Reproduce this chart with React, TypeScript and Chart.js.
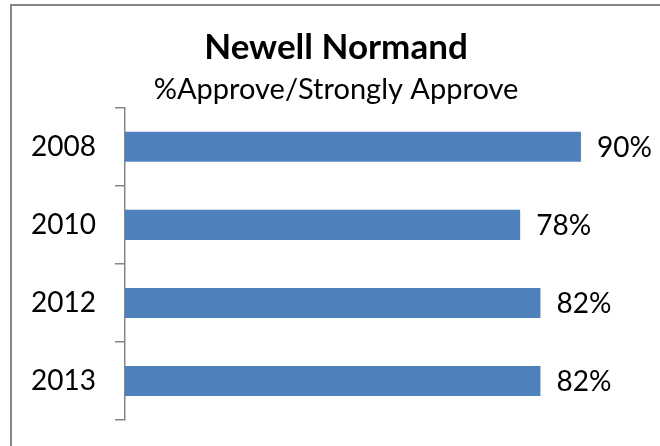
import React, { useEffect, useRef } from "react";
import { Chart, registerables } from "chart.js";

Chart.register(...registerables);

const categories: string[] = ["2008", "2010", "2012", "2013"];
const approveValues: number[] = [90, 78, 82, 82];
const valueLabels: string[] = ["90%", "78%", "82%", "82%"];
const titleText = "Newell Normand";
const subtitleText = "%Approve/Strongly Approve";
const axisMin = 0;
const axisMax = 105.6;

const FONT = "Lato, 'Open Sans', sans-serif";

const valueLabelPlugin = {
  id: "valueLabels",
  afterDatasetsDraw(chart: any) {
    const ctx = chart.ctx;
    const meta = chart.getDatasetMeta(0);
    ctx.save();
    ctx.font = `28px ${FONT}`;
    ctx.fillStyle = "#000";
    ctx.textAlign = "left";
    ctx.textBaseline = "middle";
    meta.data.forEach((bar: any, i: number) => {
      ctx.fillText(valueLabels[i], bar.x + 16, bar.y + 1);
    });
    ctx.restore();
  },
};

export default function App() {
  const canvasRef = useRef<HTMLCanvasElement | null>(null);

  useEffect(() => {
    if (!canvasRef.current) return;
    const chart = new Chart(canvasRef.current, {
      type: "bar",
      data: {
        labels: categories,
        datasets: [
          {
            data: approveValues,
            backgroundColor: "#4F81BD",
            borderWidth: 0,
            barPercentage: 0.385,
            categoryPercentage: 1,
          },
        ],
      },
      options: {
        indexAxis: "y",
        animation: false,
        responsive: false,
        maintainAspectRatio: false,
        layout: { padding: { left: 12, right: 0, top: 27, bottom: 26 } },
        plugins: {
          legend: { display: false },
          tooltip: { enabled: false },
          title: {
            display: true,
            text: titleText,
            color: "#000",
            font: { family: FONT, size: 35, weight: "bold" },
            padding: { top: 0, bottom: 3 },
          },
          subtitle: {
            display: true,
            text: subtitleText,
            color: "#000",
            font: { family: FONT, size: 29 },
            padding: { top: 0, bottom: 1 },
          },
        },
        scales: {
          x: {
            display: false,
            min: axisMin,
            max: axisMax,
          },
          y: {
            offset: true,
            afterFit(scale: any) {
              scale.paddingTop = 0;
              scale.paddingBottom = 0;
            },
            grid: {
              offset: true,
              drawOnChartArea: false,
              drawTicks: true,
              tickLength: 10,
              color: "#868686",
              lineWidth: 1.5,
            },
            border: { display: true, color: "#868686", width: 1.5 },
            ticks: {
              color: "#000",
              padding: 19,
              font: { family: FONT, size: 28 },
            },
          },
        },
      },
      plugins: [valueLabelPlugin],
    });
    return () => chart.destroy();
  }, []);

  return (
    <div style={{ position: "fixed", left: 0, top: 0, width: 660, height: 446, background: "#fff", overflow: "hidden" }}>
      <div
        style={{
          position: "absolute",
          left: 10,
          top: 4,
          width: 700,
          height: 500,
          borderLeft: "2px solid #868686",
          borderTop: "2px solid #868686",
        }}
      />
      <canvas ref={canvasRef} width={660} height={446} style={{ position: "absolute", left: 0, top: 0 }} />
    </div>
  );
}
